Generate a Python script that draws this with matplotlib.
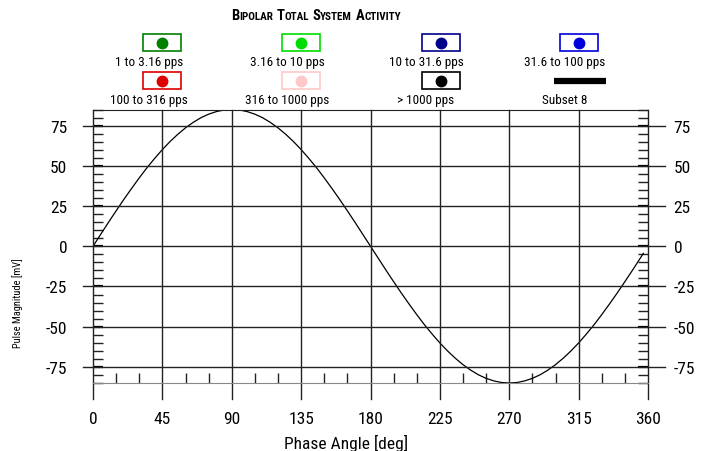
import numpy as np
import matplotlib
matplotlib.use('Agg')
import matplotlib.pyplot as plt
from matplotlib.patches import Rectangle
from matplotlib.lines import Line2D
from matplotlib.transforms import IdentityTransform

plt.rcParams['font.family'] = ['Roboto Condensed', 'Archivo Narrow', 'DejaVu Sans']

# data
phase = list(range(0, 360, 5)) + [357]
magnitude = [0.0, 7.4, 14.8, 22.0, 29.1, 35.9, 42.5, 48.8, 54.6, 60.1, 65.1, 69.6,
             73.6, 77.0, 79.9, 82.1, 83.7, 84.7, 85.0, 84.7, 83.7, 82.1, 79.9, 77.0,
             73.6, 69.6, 65.1, 60.1, 54.6, 48.8, 42.5, 35.9, 29.1, 22.0, 14.8, 7.4,
             0.0, -7.4, -14.8, -22.0, -29.1, -35.9, -42.5, -48.8, -54.6, -60.1, -65.1, -69.6,
             -73.6, -77.0, -79.9, -82.1, -83.7, -84.7, -85.0, -84.7, -83.7, -82.1, -79.9, -77.0,
             -73.6, -69.6, -65.1, -60.1, -54.6, -48.8, -42.5, -35.9, -29.1, -22.0, -14.8, -7.4,
             -4.4]
xticks = [0, 45, 90, 135, 180, 225, 270, 315, 360]
yticks = [-75, -50, -25, 0, 25, 50, 75]

legend_labels = ['1 to 3.16 pps', '3.16 to 10 pps', '10 to 31.6 pps', '31.6 to 100 pps',
                 '100 to 316 pps', '316 to 1000 pps', '> 1000 pps', 'Subset 8']
legend_colors = ['#008000', '#00dd00', '#00008b', '#0000dd',
                 '#dd0000', '#ffc8c8', '#000000', '#000000']

W, H = 706, 452
fig = plt.figure(figsize=(W / 100, H / 100), dpi=100)
ax = fig.add_axes([93 / W, 1 - 384 / H, 555 / W, 273.5 / H])

ax.plot(phase, magnitude, color='black', lw=0.9)
ax.set_xlim(0, 360)
ax.set_ylim(-85, 85)

for y in yticks:
    ax.axhline(y, xmin=-10 / 555, xmax=1 + 17 / 555, color='#222222', lw=1, clip_on=False)
for x in xticks:
    ax.axvline(x, ymin=-16 / 273.5, ymax=1, color='#222222', lw=1, clip_on=False)

for s in ['left', 'right']:
    ax.spines[s].set_visible(False)
ax.spines['top'].set_color('#222222')
ax.spines['bottom'].set_color('#888888')

ax.set_xticks(xticks)
ax.set_xticks(np.arange(15, 360, 15), minor=True)
ax.set_yticks(yticks)
ax.set_yticks(np.arange(-85, 86, 5), minor=True)

ax.tick_params(axis='x', which='major', length=0, pad=20, labelsize=12.5)
ax.tick_params(axis='x', which='minor', direction='in', length=7.2, width=1, color='#222222')
ax.tick_params(axis='y', which='major', direction='in', length=7.2, width=1.6,
               left=True, right=True, labelleft=True, labelright=True, pad=18.5, labelsize=12.5)
ax.tick_params(axis='y', which='minor', direction='in', length=7.2, width=1,
               left=True, right=True, color='#222222')
ax.set_yticklabels([str(v) for v in yticks])

fig.text(346 / W, 1 - 443 / H, 'Phase Angle [deg]', ha='center', va='center', fontsize=12.5)
fig.text(18 / W, 1 - 303 / H, 'Pulse Magnitude [mV]', ha='center', va='center',
         rotation=90, fontsize=7.5)

# title in small caps
pieces = [('B', 10.5), ('IPOLAR', 8), ('T', 10.5), ('OTAL', 8),
          ('S', 10.5), ('YSTEM', 8), ('A', 10.5), ('CTIVITY', 8)]
renderer = fig.canvas.get_renderer()
texts = []
widths = []
for s, size in pieces:
    t = fig.text(0, 0, s, fontsize=size, fontweight='bold', transform=IdentityTransform(),
                 ha='left', va='baseline')
    texts.append(t)
    widths.append(t.get_window_extent(renderer).width)
gap = 3.5
total = sum(widths) + gap * 3
xpos = 316 - total / 2
for i, t in enumerate(texts):
    t.set_position((xpos, H - 20))
    xpos += widths[i]
    if i % 2 == 1:
        xpos += gap

# legend
box_x = [162, 301, 441, 579]
label_x = [149, 287, 426, 565]
box_y = [43.5, 81.5]
label_y = [63, 101]
for i, (lab, col) in enumerate(zip(legend_labels, legend_colors)):
    r, c = divmod(i, 4)
    bx, by = box_x[c], box_y[r]
    if lab == 'Subset 8':
        fig.add_artist(Line2D([554 / W, 606 / W], [1 - by / H, 1 - by / H],
                              color='black', lw=4.5, solid_capstyle='butt'))
    else:
        fig.add_artist(Rectangle(((bx - 19) / W, 1 - (by + 8.5) / H), 38 / W, 17 / H,
                                 transform=fig.transFigure, facecolor='white',
                                 edgecolor=col, lw=1.2))
        fig.add_artist(Line2D([bx / W], [1 - by / H], marker='o', markersize=7.5,
                              color=col, linestyle='none'))
    fig.text(label_x[c] / W, 1 - label_y[r] / H, lab, ha='center', va='center', fontsize=9.5)

fig.savefig('out.png', dpi=100)
